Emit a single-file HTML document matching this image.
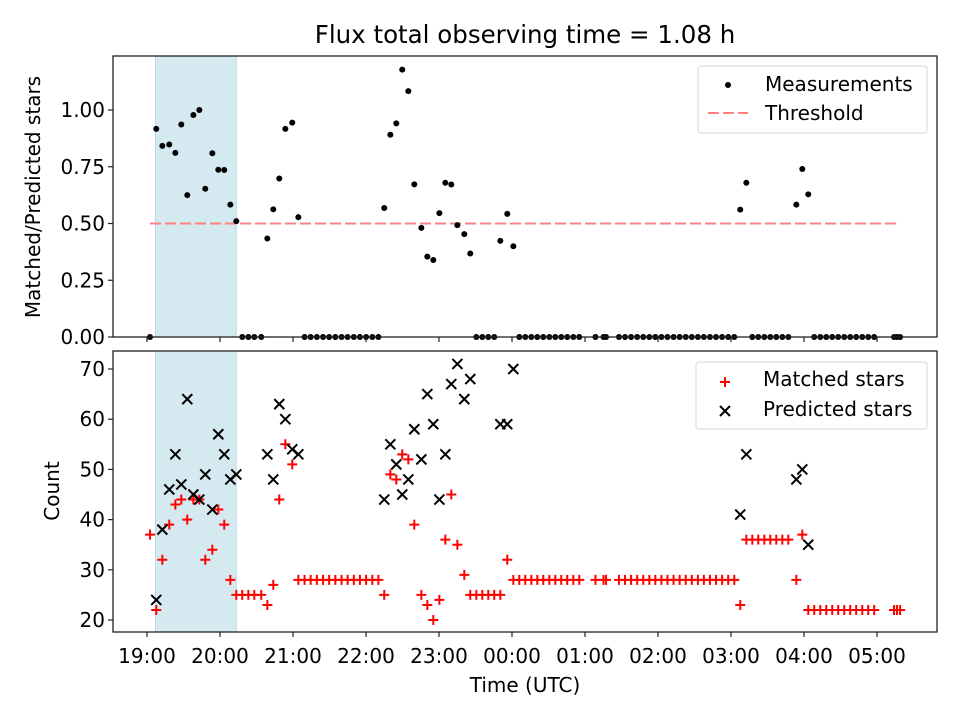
<!DOCTYPE html>
<html><head><meta charset="utf-8"><style>
html,body{margin:0;padding:0;background:#fff}
svg{display:block;font-family:"DejaVu Sans","Liberation Sans",sans-serif}
</style></head><body>
<svg id="fig" width="960" height="720" viewBox="0 0 960 720" xmlns="http://www.w3.org/2000/svg">
<rect width="960" height="720" fill="#fff"/>
<text x="525" y="43" text-anchor="middle" font-size="24.5" fill="#000">Flux total observing time = 1.08 h</text>
<g id="topAx"></g>
<g id="botAx"></g>
<text transform="translate(40,197) rotate(-90)" text-anchor="middle" font-size="20" fill="#000">Matched/Predicted stars</text>
<text transform="translate(59,491) rotate(-90)" text-anchor="middle" font-size="20" fill="#000">Count</text>
<text x="525" y="692" text-anchor="middle" font-size="20" fill="#000">Time (UTC)</text>
</svg>
<script>
// minutes since 19:00 UTC
const times = [2.5,7.6,12.6,18.3,23.3,28.2,33.1,38.1,43.0,47.9,53.7,58.6,63.5,68.5,73.4,78.3,83.3,88.2,93.9,98.9,103.8,108.7,113.7,119.4,124.4,
129.5,134.5,139.6,144.7,149.7,154.8,159.9,164.9,170.0,175.0,180.1,185.2,190.2,
195.0,200.0,204.9,209.8,214.8,219.7,225.5,230.4,235.3,240.3,245.2,250.1,255.1,260.8,265.7,
270.7,275.6,280.5,285.4,290.4,296.1,301.1,
306.0,310.9,315.9,320.8,325.7,330.7,335.6,340.5,345.4,350.4,355.3,
368.6,375.2,377.3,
387.9,392.9,397.9,402.9,407.9,412.9,417.8,422.8,427.8,432.8,437.8,442.8,447.8,452.8,457.7,462.7,467.7,472.7,477.7,482.7,
487.6,492.6,
497.5,502.4,507.4,512.3,517.2,522.2,527.1,
533.7,538.6,543.5,
548.4,553.4,558.3,563.2,568.1,573.1,578.0,582.9,587.9,592.8,597.7,
614.0,616.4,619.0];
const matched = [37,22,32,39,43,44,40,44,44,32,34,42,39,28,25,25,25,25,25,23,27,44,55,51,28,
28,28,28,28,28,28,28,28,28,28,28,28,28,
25,49,48,53,52,39,25,23,20,24,36,45,35,29,25,
25,25,25,25,25,32,28,
28,28,28,28,28,28,28,28,28,28,28,
28,28,28,
28,28,28,28,28,28,28,28,28,28,28,28,28,28,28,28,28,28,28,28,
23,36,
36,36,36,36,36,36,36,
28,37,22,
22,22,22,22,22,22,22,22,22,22,22,
22,22,22];
const predicted = [null,24,38,46,53,47,64,45,44,49,42,57,53,48,49,null,null,null,null,53,48,63,60,54,53,
null,null,null,null,null,null,null,null,null,null,null,null,null,
44,55,51,45,48,58,52,65,59,44,53,67,71,64,68,
null,null,null,null,59,59,70,
null,null,null,null,null,null,null,null,null,null,null,
null,null,null,
null,null,null,null,null,null,null,null,null,null,null,null,null,null,null,null,null,null,null,null,
41,53,
null,null,null,null,null,null,null,
48,50,35,
null,null,null,null,null,null,null,null,null,null,null,
null,null,null];
const threshold = 0.5;
const shadeStart = 7.0, shadeEnd = 73.4;
const xTickLabels = ["19:00","20:00","21:00","22:00","23:00","00:00","01:00","02:00","03:00","04:00","05:00"];
const xTickMinutes = [0,60,120,180,240,300,360,420,480,540,600];
const topYTicks = [0,0.25,0.5,0.75,1.0];
const botYTicks = [20,30,40,50,60,70];

const NS="http://www.w3.org/2000/svg";
const L=113,R=937;
const T1=56,B1=337, T2=351,B2=632;
const FS=20;
const DASH='11,4';
const xs = m => 147 + m*73/60;
const y1 = v => 337 - v*227;
const y2 = v => 620 - (v-20)*5.02;
function mk(parent,tag,attrs){const e=document.createElementNS(NS,tag);for(const k in attrs)e.setAttribute(k,attrs[k]);parent.appendChild(e);return e;}
const gTop=document.getElementById('topAx'), gBot=document.getElementById('botAx');

let s1=mk(gTop,'rect',{x:xs(shadeStart),y:T1,width:xs(shadeEnd)-xs(shadeStart),height:B1-T1,fill:'#d4eaf0',stroke:'#b8dce6','stroke-width':1});


let s2=mk(gBot,'rect',{x:xs(shadeStart),y:T2,width:xs(shadeEnd)-xs(shadeStart),height:B2-T2,fill:'#d4eaf0',stroke:'#b8dce6','stroke-width':1});



let th=mk(gTop,'line',{x1:xs(times[0]),x2:xs(times[times.length-1]),y1:y1(threshold),y2:y1(threshold),stroke:'#ff8080','stroke-width':2,'stroke-dasharray':DASH});



times.forEach((t,i)=>{
  const r = predicted[i] ? matched[i]/predicted[i] : 0;
  const c=mk(gTop,'circle',{cx:xs(t),cy:y1(r),r:3,fill:'#000'});
  
  
});
times.forEach((t,i)=>{
  const x=xs(t),y=y2(matched[i]);
  const p=mk(gBot,'path',{d:`M${x-5},${y}H${x+5}M${x},${y-5}V${y+5}`,stroke:'#ff0000','stroke-width':2,fill:'none'});
  
  
});
times.forEach((t,i)=>{
  if(predicted[i]==null) return;
  const x=xs(t),y=y2(predicted[i]);
  const p=mk(gBot,'path',{d:`M${x-5},${y-5}L${x+5},${y+5}M${x-5},${y+5}L${x+5},${y-5}`,stroke:'#000','stroke-width':2,fill:'none'});
  
  
});

let f1=mk(gTop,'rect',{x:L,y:T1,width:R-L,height:B1-T1,fill:'none',stroke:'#222','stroke-width':1.3});


let f2=mk(gBot,'rect',{x:L,y:T2,width:R-L,height:B2-T2,fill:'none',stroke:'#222','stroke-width':1.3});



xTickMinutes.forEach((m,i)=>{
  const x=xs(m);
  const a=mk(gTop,'line',{x1:x,x2:x,y1:B1,y2:B1+5,stroke:'#222','stroke-width':1.2});
  
  
  const b=mk(gBot,'line',{x1:x,x2:x,y1:B2,y2:B2+5,stroke:'#222','stroke-width':1.2});
  
  
  const tx=mk(gBot,'text',{x:x,y:663,'text-anchor':'middle','font-size':FS,fill:'#000'});
  tx.textContent=xTickLabels[i];
  
  
});
topYTicks.forEach(v=>{
  const y=y1(v);
  const a=mk(gTop,'line',{x1:L-5,x2:L,y1:y,y2:y,stroke:'#222','stroke-width':1.2});
  
  
  const tx=mk(gTop,'text',{x:L-8,y:y+7,'text-anchor':'end','font-size':FS,fill:'#000'});
  tx.textContent=v.toFixed(2);
  
  
});
botYTicks.forEach(v=>{
  const y=y2(v);
  const a=mk(gBot,'line',{x1:L-5,x2:L,y1:y,y2:y,stroke:'#222','stroke-width':1.2});
  
  
  const tx=mk(gBot,'text',{x:L-8,y:y+7,'text-anchor':'end','font-size':FS,fill:'#000'});
  tx.textContent=String(v);
  
  
});

let lg1=mk(gTop,'g',{});


mk(lg1,'rect',{x:698,y:66,width:229,height:67,rx:3,fill:'#fff','fill-opacity':0.85,stroke:'#d6d6d6'});
mk(lg1,'circle',{cx:728,cy:85,r:3,fill:'#000'});
let lt1=mk(lg1,'text',{x:765,y:91,'font-size':FS,fill:'#000'});lt1.textContent='Measurements';


mk(lg1,'line',{x1:708,x2:748,y1:113,y2:113,stroke:'#ff8080','stroke-width':2,'stroke-dasharray':DASH});
let lt2=mk(lg1,'text',{x:765,y:120,'font-size':FS,fill:'#000'});lt2.textContent='Threshold';



let lg2=mk(gBot,'g',{});


mk(lg2,'rect',{x:696,y:362,width:231,height:67,rx:3,fill:'#fff','fill-opacity':0.85,stroke:'#d6d6d6'});
mk(lg2,'path',{d:'M720,382H730M725,377V387',stroke:'#ff0000','stroke-width':2});
let lt3=mk(lg2,'text',{x:763,y:386,'font-size':FS,fill:'#000'});lt3.textContent='Matched stars';


mk(lg2,'path',{d:'M720,406L730,416M720,416L730,406',stroke:'#000','stroke-width':2});
let lt4=mk(lg2,'text',{x:763,y:416,'font-size':FS,fill:'#000'});lt4.textContent='Predicted stars';


</script>
</body></html>
